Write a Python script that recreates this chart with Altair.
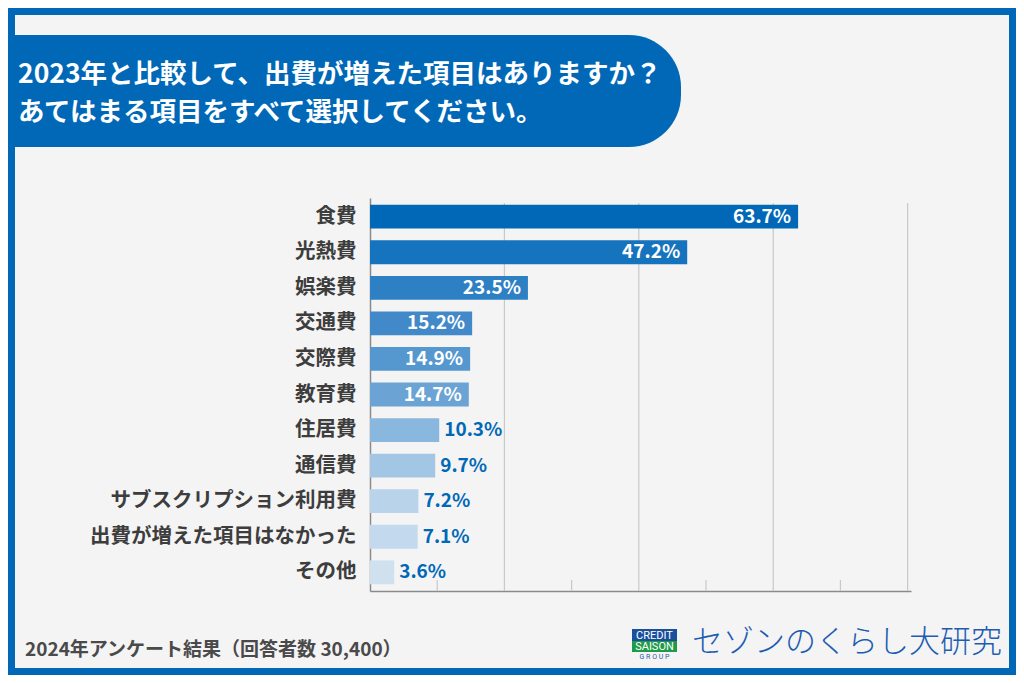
import altair as alt
import pandas as pd

# ---- data ----
categories = ["食費", "光熱費", "娯楽費", "交通費", "交際費", "教育費", "住居費",
              "通信費", "サブスクリプション利用費", "出費が増えた項目はなかった", "その他"]
values = [63.7, 47.2, 23.5, 15.2, 14.9, 14.7, 10.3, 9.7, 7.2, 7.1, 3.6]
bar_colors = ["#0068b7", "#1673bd", "#2c80c3", "#4189c8", "#5597cf", "#6aa3d4",
              "#8ab7de", "#a3c6e4", "#b9d3ea", "#c3d9ed", "#cfe0ef"]
grid_values = [20, 40, 60, 80]
minor_values = [10, 30, 50, 70]
title_lines = ["2023年と比較して、出費が増えた項目はありますか？",
               "あてはまる項目をすべて選択してください。"]
footer_text = ["2024年アンケート結果（回答者数 30,400）"]
brand_text = ["セゾンのくらし大研究"]

df = pd.DataFrame({"cat": categories, "val": values,
                   "label": [f"{v:.1f}%" for v in values]})

W, H = 541, 393
PL, PT = 362, 190
CW, CH = 1008, 667
FONT = "Noto Sans CJK JP"
BLUE = "#0068b7"

def one(d):
    return alt.Data(values=[d])

# frame border
border = alt.Chart(one({"a": 1})).mark_rect(
    fillOpacity=0, stroke=BLUE, strokeWidth=14
).encode(x=alt.value(-PL), x2=alt.value(CW - PL), y=alt.value(-PT), y2=alt.value(CH - PT))

# title banner
banner = alt.Chart(one({"a": 1})).mark_rect(
    color=BLUE, cornerRadiusTopRight=52, cornerRadiusBottomRight=52
).encode(x=alt.value(-PL), x2=alt.value(311), y=alt.value(-163), y2=alt.value(-51))

title_df = pd.DataFrame({"t": title_lines, "yy": [-123, -85]})
title_txt = alt.Chart(title_df).mark_text(
    align="left", baseline="middle", font=FONT, fontSize=26.5, fontWeight="bold", color="white"
).encode(x=alt.value(-352), y=alt.Y("yy:Q", scale=None), text="t:N")

# gridlines and minor ticks
grid = alt.Chart(pd.DataFrame({"v": grid_values})).mark_rule(
    color="#c8c8c8", strokeWidth=1.2
).encode(x="v:Q", y=alt.value(5), y2=alt.value(H))

minor = alt.Chart(pd.DataFrame({"v": minor_values})).mark_rule(
    color="#c8c8c8", strokeWidth=1.2
).encode(x="v:Q", y=alt.value(H - 11), y2=alt.value(H))

xscale = alt.Scale(domain=[0, 80.5], nice=False, zero=True)
ysort = categories

base = alt.Chart(df)

bars = base.mark_bar().encode(
    x=alt.X("val:Q", scale=xscale,
            axis=alt.Axis(title=None, labels=False, ticks=False, grid=False,
                          domainColor="#8a8a8a", domainWidth=1.5)),
    y=alt.Y("cat:N", sort=ysort,
            scale=alt.Scale(paddingInner=0.33, paddingOuter=0.19),
            axis=alt.Axis(title=None, ticks=False, grid=False, labelFont=FONT,
                          labelFontSize=20.5, labelFontWeight="bold", labelColor="#3d3d3d",
                          labelPadding=14, labelLimit=0,
                          domainColor="#8a8a8a", domainWidth=1.5)),
    color=alt.Color("cat:N", scale=alt.Scale(domain=categories, range=bar_colors), legend=None),
)

lab_in = base.transform_filter(alt.datum.val > 12).mark_text(
    align="right", baseline="middle", dx=-7, font=FONT, fontSize=19, fontWeight="bold",
    color="white"
).encode(x=alt.X("val:Q", scale=xscale), y=alt.Y("cat:N", sort=ysort), text="label:N")

lab_out = base.transform_filter(alt.datum.val <= 12).mark_text(
    align="left", baseline="middle", dx=5, font=FONT, fontSize=19, fontWeight="bold",
    color=BLUE
).encode(x=alt.X("val:Q", scale=xscale), y=alt.Y("cat:N", sort=ysort), text="label:N")

# footer
footer = alt.Chart(pd.DataFrame({"t": footer_text})).mark_text(
    align="left", baseline="middle", font=FONT, fontSize=19, fontWeight="bold", color="#4a4a4a"
).encode(x=alt.value(-345), y=alt.value(452), text="t:N")

# logo
credit_box = alt.Chart(one({"a": 1})).mark_rect(color="#1a4f9c").encode(
    x=alt.value(262), x2=alt.value(307), y=alt.value(431), y2=alt.value(443))
saison_box = alt.Chart(one({"a": 1})).mark_rect(color="#1f9a48").encode(
    x=alt.value(262), x2=alt.value(307), y=alt.value(443), y2=alt.value(454))
logo_df = pd.DataFrame({"t": ["CREDIT", "SAISON", "G R O U P"], "yy": [437.5, 448.5, 459],
                        "fs": [11, 11, 7], "c": ["white", "white", "#2a5aa8"]})
logo_txt = alt.Chart(logo_df).mark_text(
    align="center", baseline="middle", font="Roboto", fontWeight="normal"
).encode(x=alt.value(284.5), y=alt.Y("yy:Q", scale=None), text="t:N",
         size=alt.Size("fs:Q", scale=None), color=alt.Color("c:N", scale=None))
brand = alt.Chart(pd.DataFrame({"t": brand_text})).mark_text(
    align="left", baseline="middle", font=FONT, fontSize=31, fontWeight=300, color="#1e5cb3"
).encode(x=alt.value(322), y=alt.value(445), text="t:N")

chart = alt.layer(
    border, banner, title_txt, grid, minor, bars, lab_in, lab_out,
    footer, credit_box, saison_box, logo_txt, brand
).resolve_scale(color="independent").properties(
    width=W, height=H,
    padding={"left": PL, "top": PT, "right": CW - PL - W, "bottom": CH - PT - H},
    autosize=alt.AutoSizeParams(type="none"),
    background="#f4f4f4",
).configure_view(stroke=None)

chart.save("out.html", embed_options={"renderer": "svg", "actions": False})
